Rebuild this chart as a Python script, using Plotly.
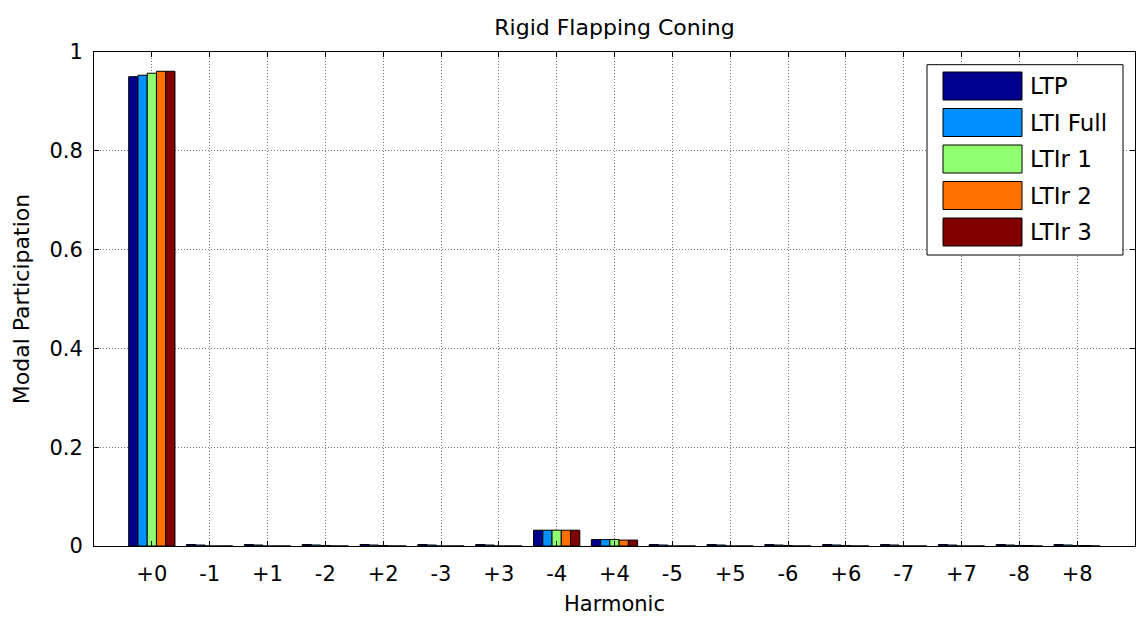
import plotly.graph_objects as go

harmonics = ["+0", "-1", "+1", "-2", "+2", "-3", "+3", "-4", "+4",
             "-5", "+5", "-6", "+6", "-7", "+7", "-8", "+8"]
series_names = ["LTP", "LTI Full", "LTIr 1", "LTIr 2", "LTIr 3"]
series_colors = ["#00008F", "#0090FF", "#90FF70", "#FF7000", "#800000"]

ltp      = [0.950, 0.003, 0.003, 0.003, 0.003, 0.003, 0.003, 0.032, 0.013, 0.003, 0.003, 0.003, 0.003, 0.003, 0.003, 0.003, 0.003]
lti_full = [0.953, 0.002, 0.002, 0.002, 0.002, 0.002, 0.002, 0.032, 0.013, 0.002, 0.002, 0.002, 0.002, 0.002, 0.002, 0.002, 0.002]
ltir1    = [0.957, 0.000, 0.000, 0.001, 0.001, 0.000, 0.000, 0.032, 0.013, 0.000, 0.000, 0.001, 0.001, 0.000, 0.000, 0.001, 0.001]
ltir2    = [0.961, 0.000, 0.000, 0.000, 0.000, 0.000, 0.000, 0.032, 0.012, 0.000, 0.000, 0.000, 0.000, 0.000, 0.000, 0.001, 0.001]
ltir3    = [0.961, 0.000, 0.000, 0.000, 0.000, 0.000, 0.000, 0.032, 0.012, 0.000, 0.000, 0.000, 0.000, 0.000, 0.000, 0.000, 0.000]
series_values = [ltp, lti_full, ltir1, ltir2, ltir3]

y_ticks = [0, 0.2, 0.4, 0.6, 0.8, 1.0]
y_tick_labels = ["0", "0.2", "0.4", "0.6", "0.8", "1"]

FONT = "DejaVu Sans, Arial, sans-serif"

fig = go.Figure()
for name, color, vals in zip(series_names, series_colors, series_values):
    fig.add_trace(go.Bar(
        x=harmonics, y=vals, name=name,
        marker=dict(color=color, line=dict(color="black", width=1)),
        showlegend=False,
    ))

# custom MATLAB-style legend
L, R = 927, 1123
T, B = 64.7, 255
x0p, x1p = 94, 1135
y0p, y1p = 546, 52
def px(x):
    return (x - x0p) / (x1p - x0p)
def py(y):
    return (y0p - y) / (y0p - y1p)

shapes = [dict(type="rect", xref="paper", yref="paper",
               x0=px(L), x1=px(R), y0=py(B), y1=py(T),
               line=dict(color="black", width=1), fillcolor="white", layer="above")]
annotations = []
for i, (name, color) in enumerate(zip(series_names, series_colors)):
    cy = 86 + i * 36.5
    shapes.append(dict(type="rect", xref="paper", yref="paper",
                       x0=px(943), x1=px(1022), y0=py(cy + 14), y1=py(cy - 14),
                       line=dict(color="black", width=1), fillcolor=color, layer="above"))
    annotations.append(dict(xref="paper", yref="paper", x=px(1028), y=py(cy),
                            text=name, showarrow=False, xanchor="left", yanchor="middle",
                            font=dict(family=FONT, size=23, color="black")))

fig.update_layout(
    width=1137, height=618,
    margin=dict(l=94, r=2, t=52, b=72),
    paper_bgcolor="white", plot_bgcolor="white",
    barmode="group", bargap=0.2, bargroupgap=0,
    title=dict(text="Rigid Flapping Coning", x=0.5, xref="paper", y=1 - 27/618, yanchor="middle",
               font=dict(family=FONT, size=22, color="black")),
    font=dict(family=FONT, size=21, color="black"),
    shapes=shapes, annotations=annotations,
    showlegend=False,
)
fig.update_xaxes(
    range=[-1, 17], categoryorder="array", categoryarray=harmonics,
    showline=True, linecolor="black", linewidth=1, mirror="ticks",
    ticks="inside", ticklen=5, tickcolor="black",
    showgrid=True, gridcolor="#7a7a7a", griddash="1px,2px", gridwidth=1,
    ticklabelstandoff=9,
    title=dict(text="Harmonic", font=dict(family=FONT, size=21), standoff=11),
    tickfont=dict(family=FONT, size=21),
)
fig.update_yaxes(
    range=[0, 1], tickvals=y_ticks, ticktext=y_tick_labels,
    showline=True, linecolor="black", linewidth=1, mirror="ticks",
    ticks="inside", ticklen=5, tickcolor="black",
    showgrid=True, gridcolor="#7a7a7a", griddash="1px,2px", gridwidth=1,
    zeroline=False, ticklabelstandoff=6,
    title=dict(text="Modal Participation", font=dict(family=FONT, size=22), standoff=13),
    tickfont=dict(family=FONT, size=21),
)

fig.write_html("out.html")
